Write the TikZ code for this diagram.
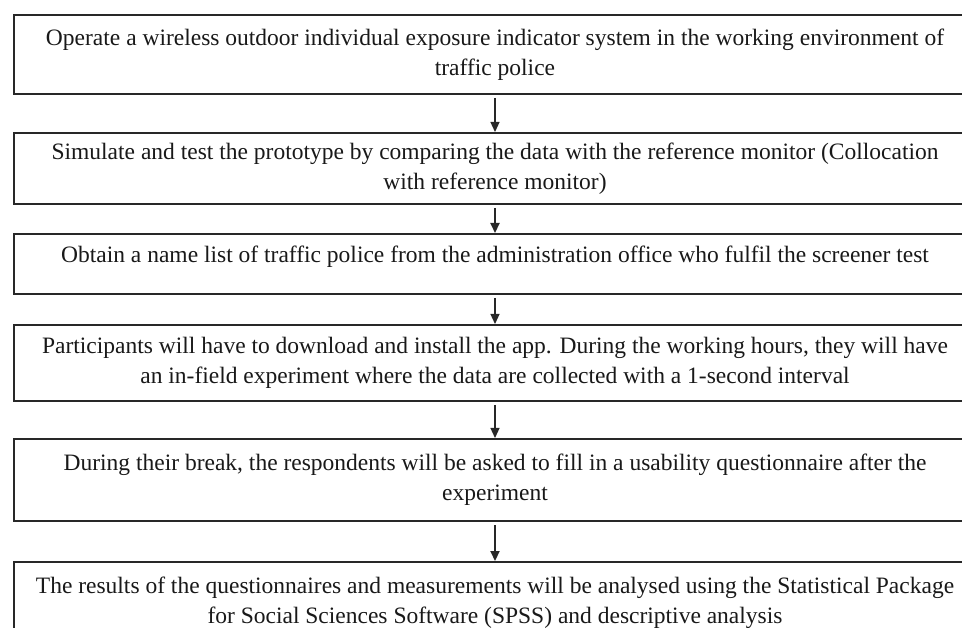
\documentclass[tikz,border=0pt]{standalone}
\usepackage{fontspec}
\setmainfont{Liberation Serif}
\usetikzlibrary{arrows.meta,positioning}
\definecolor{linegray}{RGB}{40,40,40}
\definecolor{textgray}{RGB}{25,25,25}

\begin{document}
\begin{tikzpicture}[x=1pt,y=-1pt,
  box/.style={draw=linegray,line width=2pt,fill=white,
              minimum width=962pt,inner sep=0pt,
              font=\fontsize{23.5}{30}\selectfont,text=textgray,align=center},
  arr/.style={-{Triangle[width=9pt,length=10pt]},line width=1.2pt,
              draw=linegray,shorten <=3pt},
  heavyarr/.style={arr,line width=2.2pt}
]
  \useasboundingbox (0,0) rectangle (962,628);
  \clip (0,0) rectangle (962,628);
  \node[box,minimum height=79pt] (op) at (495,54.5)
    {Operate a wireless outdoor individual exposure indicator system in the working environment of\\traffic police};
  \node[box,minimum height=71pt] (sim) at (495,168.5)
    {Simulate and test the prototype by comparing the data with the reference monitor (Collocation\\with reference monitor)};
  \node[box,minimum height=60pt,text depth=20pt] (names) at (495,264)
    {Obtain a name list of traffic police from the administration office who fulfil the screener test};
  \node[box,minimum height=76pt] (part) at (495,363)
    {Participants will have to download and install the app. During the working hours, they will have\\an in-field experiment where the data are collected with a 1-second interval};
  \node[box,minimum height=82pt] (brk) at (495,480)
    {During their break, the respondents will be asked to fill in a usability questionnaire after the\\experiment};
  \node[box,minimum height=82pt] (res) at (495,603)
    {The results of the questionnaires and measurements will be analysed using the Statistical Package\\for Social Sciences Software (SPSS) and descriptive analysis};
  % connectors
  \draw[arr] (op) -- (sim);
  \draw[heavyarr] (sim) -- (names);
  \draw[arr] (names) -- (part);
  \draw[arr] (part) -- (brk);
  \draw[heavyarr] (brk) -- (res);
\end{tikzpicture}
\end{document}
